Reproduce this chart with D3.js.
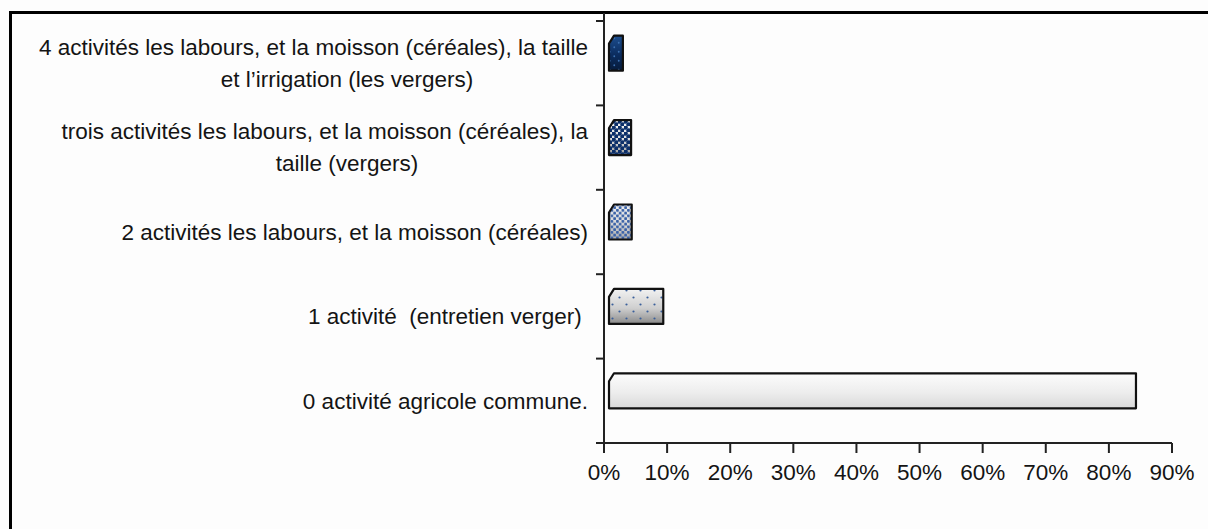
<!DOCTYPE html>
<html>
<head>
<meta charset="utf-8">
<script src="https://cdn.jsdelivr.net/npm/d3@7"></script>
<style>
  html, body { margin: 0; padding: 0; background: #fdfdfd; }
  svg { display: block; }
  text { font-family: "Liberation Sans", Arial, sans-serif; fill: #141414; white-space: pre; }
</style>
</head>
<body>
<svg id="chart" width="1208" height="529"></svg>
<script>
// ---- data ----
const categories = [
  "4 activités",
  "trois activités",
  "2 activités",
  "1 activité",
  "0 activité"
];
const labelLines = [
  ["4 activités les labours, et la moisson (céréales), la taille", "et l’irrigation (les vergers)"],
  ["trois activités les labours, et la moisson (céréales), la", "taille (vergers)"],
  ["2 activités les labours, et la moisson (céréales)"],
  ["1 activité  (entretien verger) "],
  ["0 activité agricole commune."]
];
const values = [2.2, 3.5, 3.6, 8.6, 83.5];
const tickValues = [0, 10, 20, 30, 40, 50, 60, 70, 80, 90];
const tickLabels = ["0%", "10%", "20%", "30%", "40%", "50%", "60%", "70%", "80%", "90%"];

// ---- layout ----
const svg = d3.select("#chart");
const x0 = 604, x1 = 1172, yTop = 21, yBot = 443;
const depth = 5;       // 3D floor offset
const lift = 10;       // 3D perspective lift of bars
const fontSize = 22.5;

const x = d3.scaleLinear().domain([0, 90]).range([x0, x1]);
const y = d3.scaleBand().domain(categories).range([yTop, yBot]).paddingInner(0.585).paddingOuter(0.2925);
const yb = d3.scaleBand().domain(categories).range([yTop, yBot]);

// frame
svg.append("rect").attr("x", 10.5).attr("y", 12.5).attr("width", 1210).attr("height", 540)
  .attr("fill", "none").attr("stroke", "#000").attr("stroke-width", 3);

// defs: gradients & dot patterns
const defs = svg.append("defs");
const fills = [
  { g: ["#1d4e8f", "#0b2c5e", "#061a3a"], dot: "#3a6fb0", r: 0.9, s: 9 },
  { g: ["#f4f4f4", "#dcdcdc", "#9a9a9a"], dot: "#0c2f6a", r: 2.3, s: 6 },
  { g: ["#f0f0f0", "#d8d8d8", "#a8a8a8"], dot: "#3a62a8", r: 1.5, s: 5.5 },
  { g: ["#f2f2f2", "#cfcfcf", "#8a8a8a"], dot: "#3a5f9a", r: 1.1, s: 14 },
  { g: ["#fcfcfc", "#ededed", "#d9d9d9"], dot: null }
];
fills.forEach((f, i) => {
  const lg = defs.append("linearGradient").attr("id", "g" + i)
    .attr("x1", 0).attr("y1", 0).attr("x2", 0).attr("y2", 1);
  lg.append("stop").attr("offset", "0%").attr("stop-color", f.g[0]);
  lg.append("stop").attr("offset", "55%").attr("stop-color", f.g[1]);
  lg.append("stop").attr("offset", "100%").attr("stop-color", f.g[2]);
  if (f.dot) {
    const p = defs.append("pattern").attr("id", "p" + i).attr("patternUnits", "userSpaceOnUse")
      .attr("width", f.s).attr("height", f.s);
    p.append("circle").attr("cx", f.s / 4).attr("cy", f.s / 4).attr("r", f.r).attr("fill", f.dot);
    p.append("circle").attr("cx", 3 * f.s / 4).attr("cy", 3 * f.s / 4).attr("r", f.r).attr("fill", f.dot);
  }
});

// bars
function barPath(i) {
  const left = x(0) + depth;
  const right = x(values[i]) + depth;
  const top = y(categories[i]) - lift;
  const bot = top + y.bandwidth();
  const c = 5;
  return `M${left},${bot} L${left},${top + c * 1.6} L${left + c},${top} L${right},${top} L${right},${bot} Z`;
}
const bars = svg.append("g");
categories.forEach((c, i) => {
  bars.append("path").attr("d", barPath(i)).attr("fill", `url(#g${i})`);
  if (fills[i].dot) bars.append("path").attr("d", barPath(i)).attr("fill", `url(#p${i})`);
  bars.append("path").attr("d", barPath(i)).attr("fill", "none")
    .attr("stroke", "#111").attr("stroke-width", 2.2).attr("stroke-linejoin", "round");
});

// y axis
svg.append("line").attr("x1", x0).attr("x2", x0).attr("y1", 13).attr("y2", yBot)
  .attr("stroke", "#222").attr("stroke-width", 2);
const yTicks = yb.domain().map(d => yb(d)).concat([yBot]);
svg.selectAll(".ytick").data(yTicks).enter().append("line")
  .attr("x1", x0 - 8).attr("x2", x0).attr("y1", d => d).attr("y2", d => d)
  .attr("stroke", "#222").attr("stroke-width", 2);

// x axis
svg.append("line").attr("x1", x0 - 8).attr("x2", x1).attr("y1", yBot).attr("y2", yBot)
  .attr("stroke", "#222").attr("stroke-width", 2);
svg.selectAll(".xtick").data(tickValues).enter().append("line")
  .attr("x1", d => x(d)).attr("x2", d => x(d)).attr("y1", yBot).attr("y2", yBot + 10)
  .attr("stroke", "#222").attr("stroke-width", 2);
svg.selectAll(".xlab").data(tickValues).enter().append("text")
  .attr("x", d => x(d)).attr("y", 472).attr("dy", "0.35em")
  .attr("text-anchor", "middle").style("font-size", fontSize + "px")
  .text((d, i) => tickLabels[i]);

// category labels
const labelRight = x0 - 16;
const line2Center = 347;
categories.forEach((c, i) => {
  const cy = yb(c) + yb.bandwidth() / 2;
  const lines = labelLines[i];
  if (lines.length === 1) {
    svg.append("text").attr("x", labelRight).attr("y", cy).attr("dy", "0.35em")
      .attr("text-anchor", "end").style("font-size", fontSize + "px").text(lines[0]);
  } else {
    svg.append("text").attr("x", labelRight).attr("y", cy - 16).attr("dy", "0.35em")
      .attr("text-anchor", "end").style("font-size", fontSize + "px").text(lines[0]);
    svg.append("text").attr("x", line2Center).attr("y", cy + 16).attr("dy", "0.35em")
      .attr("text-anchor", "middle").style("font-size", fontSize + "px").text(lines[1]);
  }
});
</script>
</body>
</html>
